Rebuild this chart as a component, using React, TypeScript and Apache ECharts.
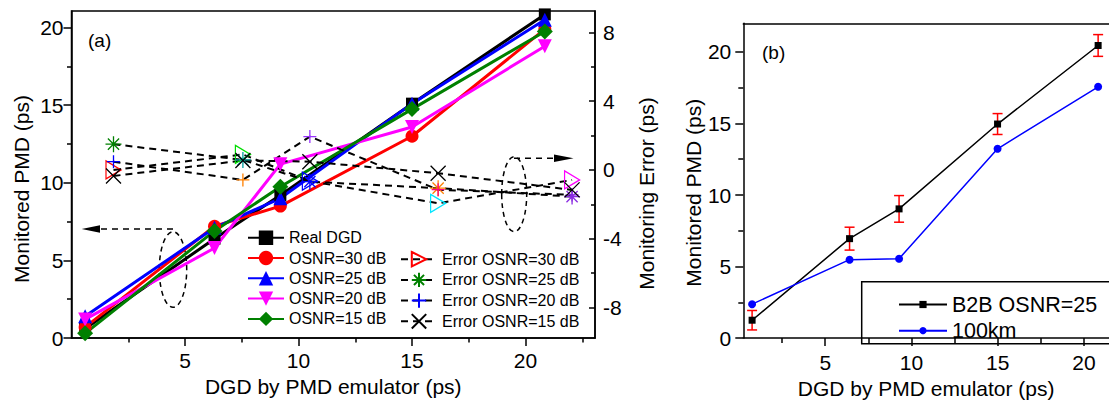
import React, { useEffect, useRef } from 'react';
import * as echarts from 'echarts';

const FONT = "'Liberation Sans', Arial, Helvetica, sans-serif";

// ---------- Panel (a) data ----------
const dgdX = [0.6, 6.3, 9.2, 15.0, 20.85];
const realDGD = [0.6, 6.4, 9.2, 15.1, 20.85];
const osnr30 = [0.7, 7.2, 8.5, 13.0, 19.9];
const osnr25 = [1.4, 7.1, 9.0, 15.1, 20.5];
const osnr20 = [1.2, 5.8, 11.2, 13.6, 18.8];
const osnr15 = [0.3, 6.9, 9.75, 14.75, 19.75];

const errX = [1.85, 7.55, 10.5, 16.15, 22.05];
const err30 = [0.0, 0.9, -0.65, -1.94, -0.58];
const err25 = [1.5, 0.58, -0.68, -1.06, -1.55];
const err20 = [0.48, -0.58, 1.94, -1.15, -1.45];
const err15 = [-0.35, 0.55, 0.48, -0.19, -1.16];

const aXTicks = [5, 10, 15, 20];
const aXMinorTicks = [2.5, 7.5, 12.5, 17.5, 22.5];
const aYTicks = [0, 5, 10, 15, 20];
const aYMinorTicks = [2.5, 7.5, 12.5, 17.5];
const aErrTicks = [-8, -4, 0, 4, 8];
const aErrMinorTicks = [-6, -2, 2, 6];

// ---------- Panel (b) data ----------
const bX = [0.76, 6.41, 9.28, 14.99, 20.82];
const b2b = [1.25, 6.95, 9.03, 14.96, 20.45];
const b2bErr = [0.68, 0.8, 0.93, 0.73, 0.76];
const km100 = [2.37, 5.48, 5.55, 13.23, 17.56];
const bXTicks = [5, 10, 15, 20];
const bXMinorTicks = [2.5, 7.5, 12.5, 17.5];
const bYTicks = [0, 5, 10, 15, 20];
const bYMinorTicks = [2.5, 7.5, 12.5, 17.5];

// ---------- styles ----------
const err30Colors = ['#ff0000', '#00dd00', '#0000ff', '#00e5ff', '#ff00ff'];
const err25Colors = ['#008000', '#00a0a0', '#0000ff', '#ff8000', '#8a2be2'];
const err20Colors = ['#0000ff', '#ff8000', '#9933ff', '#ff0080', '#8a2be2'];
const err15Colors = ['#000000', '#000000', '#000000', '#000000', '#000000'];

const SYM_DOWN = 'path://M0,0 L10,0 L5,10 Z';
const SYM_RIGHT = 'path://M0,0 L10,5 L0,10 Z';
const SYM_AST = 'path://M5,0 L5,10 M0,5 L10,5 M1.5,1.5 L8.5,8.5 M8.5,1.5 L1.5,8.5';
const SYM_PLUS = 'path://M5,0 L5,10 M0,5 L10,5';
const SYM_X = 'path://M0,0 L10,10 M10,0 L0,10';

const BLACK = '#000';
const lineAxis = { show: true, onZero: false, lineStyle: { color: BLACK, width: 1.5 } };
const noLine = { show: false, onZero: false };
const labelStyle = { color: BLACK, fontSize: 21, fontFamily: FONT };
const nameStyle = { color: BLACK, fontSize: 21, fontFamily: FONT };

function majorAxis(extra: any, ticks: number[], len: number, margin: number, inside = false) {
  return {
    type: 'value',
    axisLine: lineAxis,
    axisTick: { show: true, inside, length: len, customValues: ticks, lineStyle: { color: BLACK, width: 1.5 } },
    axisLabel: { show: true, customValues: ticks, margin, ...labelStyle },
    splitLine: { show: false },
    ...extra,
  };
}
function minorAxis(extra: any, ticks: number[], len: number, inside = false) {
  return {
    type: 'value',
    axisLine: noLine,
    axisTick: { show: true, inside, length: len, customValues: ticks, lineStyle: { color: BLACK, width: 1.5 } },
    axisLabel: { show: false },
    splitLine: { show: false },
    ...extra,
  };
}

function mainSeries(name: string, ys: number[], color: string, symbol: string, size: number) {
  return {
    name,
    type: 'line',
    xAxisIndex: 0,
    yAxisIndex: 0,
    data: dgdX.map((x, i) => [x, ys[i]]),
    symbol,
    symbolSize: size,
    lineStyle: { color, width: 3 },
    itemStyle: { color, borderWidth: 0 },
    emphasis: { disabled: true },
  };
}

function errSeries(name: string, ys: number[], colors: string[], legendColor: string, symbol: string, size: any) {
  return {
    name,
    type: 'line',
    xAxisIndex: 0,
    yAxisIndex: 2,
    data: errX.map((x, i) => ({ value: [x, ys[i]], itemStyle: { borderColor: colors[i] } })),
    symbol,
    symbolSize: size,
    lineStyle: { color: BLACK, width: 2, type: [7, 5] },
    itemStyle: { color: 'rgba(0,0,0,0)', borderColor: legendColor, borderWidth: 1.3 },
    emphasis: { disabled: true },
  };
}

export default function App() {
  const ref = useRef<HTMLDivElement>(null);

  useEffect(() => {
    if (!ref.current) return;
    const chart = echarts.init(ref.current, undefined, { renderer: 'svg' });

    const option: any = {
      animation: false,
      backgroundColor: '#fff',
      textStyle: { fontFamily: FONT, color: BLACK },
      grid: [
        { left: 71.5, top: 11, width: 523.5, height: 327, show: true, borderColor: BLACK, borderWidth: 1.5, backgroundColor: 'rgba(0,0,0,0)' },
        { left: 743.3, top: 23.3, width: 365.7, height: 324.4 },
      ],
      xAxis: [
        majorAxis({ gridIndex: 0, min: 0, max: 23.06, position: 'bottom', name: 'DGD by PMD emulator (ps)', nameLocation: 'middle', nameGap: 38, nameTextStyle: nameStyle }, aXTicks, 8, 12),
        minorAxis({ gridIndex: 0, min: 0, max: 23.06, position: 'bottom' }, aXMinorTicks, 4.5),
        majorAxis({ gridIndex: 1, min: 0.25, max: 21.45, position: 'bottom', name: 'DGD by PMD emulator (ps)', nameLocation: 'middle', nameGap: 37, nameTextStyle: nameStyle }, bXTicks, 8, 14),
        minorAxis({ gridIndex: 1, min: 0.25, max: 21.45, position: 'bottom' }, bXMinorTicks, 5),
        { type: 'value', gridIndex: 1, min: 0.25, max: 21.45, position: 'top', axisLine: lineAxis, axisTick: { show: false }, axisLabel: { show: false }, splitLine: { show: false } },
      ],
      yAxis: [
        majorAxis({ gridIndex: 0, min: 0, max: 21.07, position: 'left', name: 'Monitored PMD (ps)', nameLocation: 'middle', nameRotate: 90, nameGap: 40, nameTextStyle: { ...nameStyle, padding: [0, 29, 0, 0] } }, aYTicks, 8, 8),
        minorAxis({ gridIndex: 0, min: 0, max: 21.07, position: 'left' }, aYMinorTicks, 4.5),
        majorAxis({ gridIndex: 0, min: -9.77, max: 9.24, position: 'right', name: 'Monitoring Error (ps)', nameLocation: 'middle', nameRotate: 90, nameGap: 41, nameTextStyle: { ...nameStyle, padding: [0, 38, 0, 0] } }, aErrTicks, 6, 8, true),
        minorAxis({ gridIndex: 0, min: -9.77, max: 9.24, position: 'right' }, aErrMinorTicks, 4, true),
        majorAxis({ gridIndex: 1, min: 0, max: 22, position: 'left', name: 'Monitored PMD (ps)', nameLocation: 'middle', nameRotate: 90, nameGap: 36, nameTextStyle: { ...nameStyle, padding: [0, 24, 0, 0] } }, bYTicks, 8, 12),
        minorAxis({ gridIndex: 1, min: 0, max: 22, position: 'left' }, bYMinorTicks, 5),
      ],
      legend: [
        {
          data: ['Real DGD', 'OSNR=30 dB', 'OSNR=25 dB', 'OSNR=20 dB', 'OSNR=15 dB'],
          orient: 'vertical', left: 247, top: 229.7, padding: 0,
          itemWidth: 36, itemHeight: 18, itemGap: 4.3, selectedMode: false,
          textStyle: { fontSize: 16, color: BLACK, fontFamily: FONT },
        },
        {
          data: ['Error OSNR=30 dB', 'Error OSNR=25 dB', 'Error OSNR=20 dB', 'Error OSNR=15 dB'],
          orient: 'vertical', left: 400, top: 251, padding: 0,
          itemWidth: 36, itemHeight: 18, itemGap: 4.3, selectedMode: false,
          textStyle: { fontSize: 16, color: BLACK, fontFamily: FONT },
        },
        {
          data: ['B2B OSNR=25', '100km'],
          orient: 'vertical', left: 898, top: 293.5, padding: 0,
          itemWidth: 48, itemHeight: 9, itemGap: 4.2, selectedMode: false,
          textStyle: { fontSize: 21.5, color: BLACK, fontFamily: FONT },
        },
      ],
      series: [
        mainSeries('Real DGD', realDGD, '#000000', 'rect', 12),
        mainSeries('OSNR=30 dB', osnr30, '#ff0000', 'circle', 13),
        mainSeries('OSNR=25 dB', osnr25, '#0000ff', 'triangle', 14),
        mainSeries('OSNR=20 dB', osnr20, '#ff00ff', SYM_DOWN, 14),
        mainSeries('OSNR=15 dB', osnr15, '#008000', 'diamond', 16),
        errSeries('Error OSNR=30 dB', err30, err30Colors, '#ff0000', SYM_RIGHT, [15, 18]),
        errSeries('Error OSNR=25 dB', err25, err25Colors, '#008000', SYM_AST, 16),
        errSeries('Error OSNR=20 dB', err20, err20Colors, '#0000ff', SYM_PLUS, 13),
        errSeries('Error OSNR=15 dB', err15, err15Colors, '#000000', SYM_X, 15),
        {
          type: 'custom',
          xAxisIndex: 2,
          yAxisIndex: 4,
          z: 1,
          silent: true,
          encode: { x: 0, y: 1 },
          data: bX.map((x, i) => [x, b2b[i], b2bErr[i]]),
          renderItem: (params: any, api: any) => {
            const x = api.value(0);
            const y = api.value(1);
            const e = api.value(2);
            const top = api.coord([x, y + e]);
            const bot = api.coord([x, y - e]);
            const cap = 5;
            const st = { stroke: '#ff0000', lineWidth: 1.5 };
            return {
              type: 'group',
              children: [
                { type: 'line', shape: { x1: top[0], y1: top[1], x2: bot[0], y2: bot[1] }, style: st },
                { type: 'line', shape: { x1: top[0] - cap, y1: top[1], x2: top[0] + cap, y2: top[1] }, style: st },
                { type: 'line', shape: { x1: bot[0] - cap, y1: bot[1], x2: bot[0] + cap, y2: bot[1] }, style: st },
              ],
            };
          },
        },
        {
          name: 'B2B OSNR=25',
          type: 'line',
          xAxisIndex: 2,
          yAxisIndex: 4,
          z: 3,
          data: bX.map((x, i) => [x, b2b[i]]),
          symbol: 'rect',
          symbolSize: 7,
          lineStyle: { color: '#000000', width: 1.5 },
          itemStyle: { color: '#000000', borderWidth: 0 },
          emphasis: { disabled: true },
        },
        {
          name: '100km',
          type: 'line',
          xAxisIndex: 2,
          yAxisIndex: 4,
          z: 3,
          data: bX.map((x, i) => [x, km100[i]]),
          symbol: 'circle',
          symbolSize: 8,
          lineStyle: { color: '#0000ff', width: 1.5 },
          itemStyle: { color: '#0000ff', borderWidth: 0 },
          emphasis: { disabled: true },
        },
      ],
      graphic: [
        { type: 'text', x: 88, y: 40, style: { text: '(a)', fontSize: 19, fontFamily: FONT, fill: BLACK, verticalAlign: 'middle' } },
        { type: 'text', x: 762, y: 52.5, style: { text: '(b)', fontSize: 19, fontFamily: FONT, fill: BLACK, verticalAlign: 'middle' } },
        // annotation: left ellipse + arrow
        { type: 'ellipse', shape: { cx: 173, cy: 269.5, rx: 13.7, ry: 37.8 }, style: { fill: 'none', stroke: BLACK, lineWidth: 1.5, lineDash: [5, 4] } },
        { type: 'line', shape: { x1: 173, y1: 229, x2: 100, y2: 229 }, style: { stroke: BLACK, lineWidth: 1.5, lineDash: [6, 5] } },
        { type: 'polygon', shape: { points: [[81.7, 229], [100, 225.2], [100, 232.8]] }, style: { fill: BLACK } },
        // annotation: right ellipse + arrow
        { type: 'ellipse', shape: { cx: 514.2, cy: 194.2, rx: 12.5, ry: 37.5 }, style: { fill: 'none', stroke: BLACK, lineWidth: 1.5, lineDash: [5, 4] } },
        { type: 'line', shape: { x1: 514, y1: 158.3, x2: 555, y2: 158.3 }, style: { stroke: BLACK, lineWidth: 1.5, lineDash: [6, 5] } },
        { type: 'polygon', shape: { points: [[573.5, 158.3], [554, 154.5], [554, 162.1]] }, style: { fill: BLACK } },
        // legend frame of panel (b)
        { type: 'rect', shape: { x: 861.7, y: 281.7, width: 270, height: 62 }, style: { fill: 'none', stroke: BLACK, lineWidth: 1.5 }, z: 10 },
      ],
    };

    chart.setOption(option);
    return () => chart.dispose();
  }, []);

  return <div ref={ref} style={{ position: 'absolute', left: 0, top: 0, width: 1109, height: 404, background: '#fff' }} />;
}
